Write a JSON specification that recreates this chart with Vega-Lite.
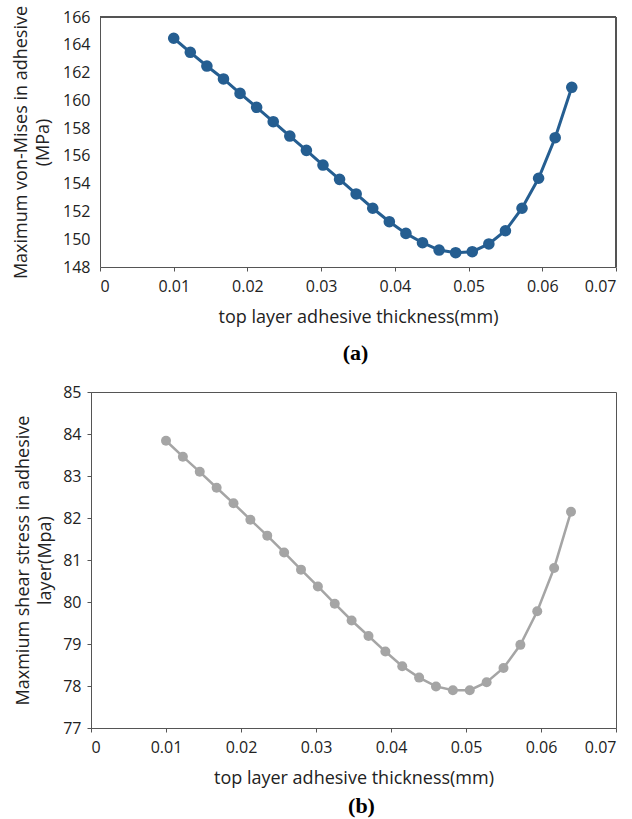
{
  "$schema": "https://vega.github.io/schema/vega-lite/v6.json",
  "padding": {"left": 12, "top": 5, "right": 5, "bottom": 0},
  "background": "white",
  "spacing": 19,
  "config": {
    "font": "Open Sans",
    "view": {"stroke": "#555555", "strokeWidth": 1},
    "axis": {
      "grid": false,
      "labelFont": "Open Sans",
      "titleFont": "Open Sans",
      "labelFontSize": 16,
      "titleFontSize": 18,
      "labelColor": "#222222",
      "titleColor": "#222222",
      "titleFontWeight": "normal",
      "domainColor": "#555555",
      "tickColor": "#555555"
    },
    "title": {"font": "Liberation Serif", "fontSize": 22, "fontWeight": "bold", "color": "#000000"}
  },
  "datasets": {
    "a": [
      {"t": 0.01, "v": 164.47},
      {"t": 0.01225, "v": 163.46},
      {"t": 0.0145, "v": 162.47},
      {"t": 0.01675, "v": 161.54},
      {"t": 0.019, "v": 160.5},
      {"t": 0.02125, "v": 159.5},
      {"t": 0.0235, "v": 158.46},
      {"t": 0.02575, "v": 157.43},
      {"t": 0.028, "v": 156.4},
      {"t": 0.03025, "v": 155.34},
      {"t": 0.0325, "v": 154.31},
      {"t": 0.03475, "v": 153.26},
      {"t": 0.037, "v": 152.23},
      {"t": 0.03925, "v": 151.26},
      {"t": 0.0415, "v": 150.42},
      {"t": 0.04375, "v": 149.75},
      {"t": 0.046, "v": 149.22},
      {"t": 0.04825, "v": 149.03},
      {"t": 0.0505, "v": 149.1},
      {"t": 0.05275, "v": 149.66},
      {"t": 0.055, "v": 150.61},
      {"t": 0.05725, "v": 152.23},
      {"t": 0.0595, "v": 154.39},
      {"t": 0.06175, "v": 157.31},
      {"t": 0.064, "v": 160.94}
    ],
    "b": [
      {"t": 0.01, "v": 83.84},
      {"t": 0.01225, "v": 83.46},
      {"t": 0.0145, "v": 83.1},
      {"t": 0.01675, "v": 82.72},
      {"t": 0.019, "v": 82.35},
      {"t": 0.02125, "v": 81.96},
      {"t": 0.0235, "v": 81.58},
      {"t": 0.02575, "v": 81.18},
      {"t": 0.028, "v": 80.77},
      {"t": 0.03025, "v": 80.37},
      {"t": 0.0325, "v": 79.96},
      {"t": 0.03475, "v": 79.56},
      {"t": 0.037, "v": 79.19},
      {"t": 0.03925, "v": 78.82},
      {"t": 0.0415, "v": 78.47},
      {"t": 0.04375, "v": 78.2},
      {"t": 0.046, "v": 77.99},
      {"t": 0.04825, "v": 77.9},
      {"t": 0.0505, "v": 77.9},
      {"t": 0.05275, "v": 78.09},
      {"t": 0.055, "v": 78.43},
      {"t": 0.05725, "v": 78.98},
      {"t": 0.0595, "v": 79.78},
      {"t": 0.06175, "v": 80.81},
      {"t": 0.064, "v": 82.15}
    ]
  },
  "vconcat": [
    {
      "width": 525,
      "height": 250,
      "view": {"stroke": null},
      "data": {"name": "a"},
      "title": {"text": "(a)", "orient": "bottom", "anchor": "middle", "frame": "group", "dx": 2, "offset": 17},
      "encoding": {
        "x": {
          "field": "t", "type": "quantitative",
          "scale": {"domain": [0, 0.07], "nice": false, "zero": false, "range": [9, 525]},
          "axis": {"values": [0, 0.01, 0.02, 0.03, 0.04, 0.05, 0.06, 0.07], "format": ".2~f", "title": "top layer adhesive thickness(mm)", "tickSize": 4, "labelPadding": 7, "titlePadding": 14}
        },
        "y": {
          "field": "v", "type": "quantitative",
          "scale": {"domain": [148, 166], "nice": false, "zero": false},
          "axis": {"values": [148, 150, 152, 154, 156, 158, 160, 162, 164, 166], "ticks": false, "tickSize": 0, "offset": -9, "labelPadding": 10, "title": ["Maximum von-Mises in adhesive", "(MPa)"], "titleAlign": "center", "titleAnchor": "middle", "titleLineHeight": 22, "titlePadding": 10}
        }
      },
      "layer": [
        {"mark": {"type": "rule", "color": "#555555", "strokeWidth": 1}, "encoding": {"x": {"datum": 0.07}, "y": {"datum": 148}, "y2": {"datum": 166}}},
        {"mark": {"type": "rule", "color": "#555555", "strokeWidth": 1}, "encoding": {"y": {"datum": 166}, "x": {"datum": 0}, "x2": {"datum": 0.07}}},
        {"mark": {"type": "line", "color": "#255E91", "strokeWidth": 3}},
        {"mark": {"type": "point", "filled": true, "opacity": 1, "color": "#255E91", "size": 135}}
      ]
    },
    {
      "width": 525,
      "height": 336,
      "data": {"name": "b"},
      "title": {"text": "(b)", "orient": "bottom", "anchor": "middle", "frame": "group", "dx": 8, "offset": 9},
      "encoding": {
        "x": {
          "field": "t", "type": "quantitative",
          "scale": {"domain": [0, 0.07], "nice": false, "zero": false},
          "axis": {"values": [0, 0.01, 0.02, 0.03, 0.04, 0.05, 0.06, 0.07], "format": ".2~f", "title": "top layer adhesive thickness(mm)", "tickSize": 4, "labelPadding": 7, "titlePadding": 14}
        },
        "y": {
          "field": "v", "type": "quantitative",
          "scale": {"domain": [77, 85], "nice": false, "zero": false},
          "axis": {"values": [77, 78, 79, 80, 81, 82, 83, 84, 85], "tickSize": 4, "labelPadding": 6, "title": ["Maxmium shear stress in adhesive", "layer(Mpa)"], "titleAlign": "center", "titleAnchor": "middle", "titleLineHeight": 22, "titlePadding": 8}
        }
      },
      "layer": [
        {"mark": {"type": "line", "color": "#A5A5A5", "strokeWidth": 2.5}},
        {"mark": {"type": "point", "filled": true, "opacity": 1, "color": "#A5A5A5", "size": 100}}
      ]
    }
  ]
}
